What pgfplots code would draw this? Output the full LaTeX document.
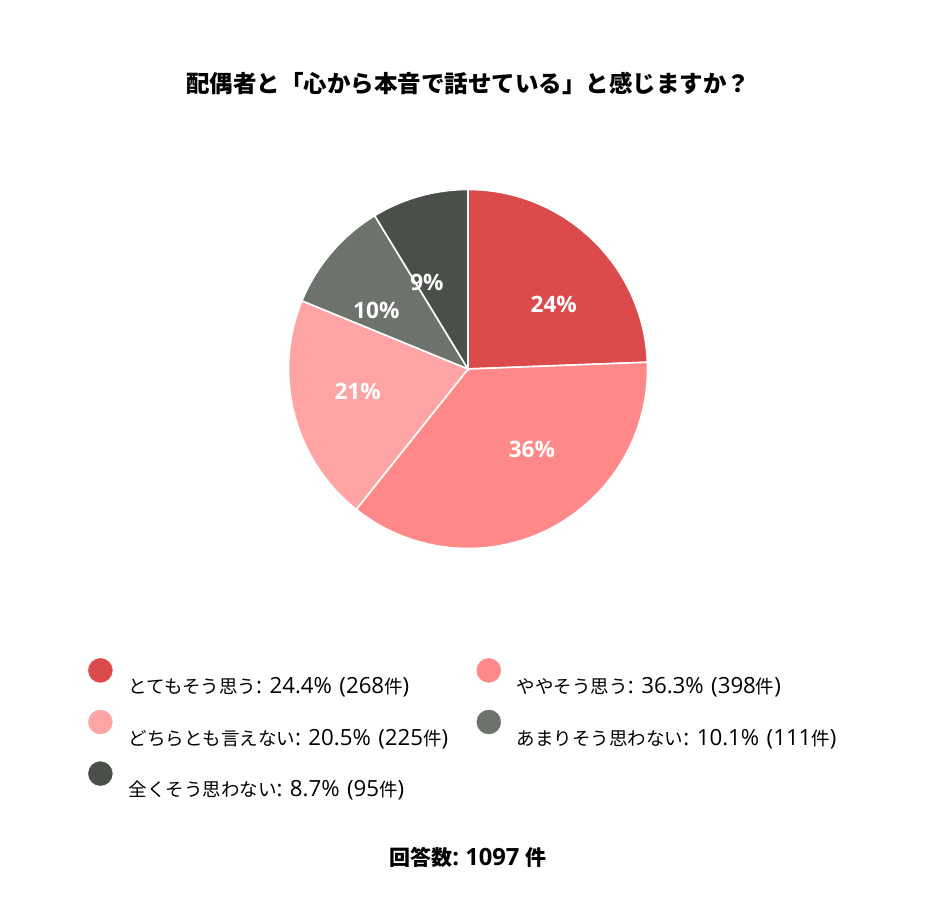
\documentclass[border=0pt]{standalone}
\usepackage{fontspec}
\setmainfont{Open Sans}[Scale=1.13]
\newfontfamily\jp{Noto Sans CJK JP}
\newcommand\jpl{\jp\fontsize{18.5bp}{22bp}\selectfont}
\usepackage{pgfplots}
\usepackage{pgfplotstable}
\pgfplotsset{compat=1.18}
\usetikzlibrary{calc}
\frenchspacing

\definecolor{c1}{HTML}{DC4B4B}
\definecolor{c2}{HTML}{FF8888}
\definecolor{c3}{HTML}{FFA4A4}
\definecolor{c4}{HTML}{6D726D}
\definecolor{c5}{HTML}{4A5049}

% 回答の内訳 (pct は %, count は件数)
\pgfplotstableread{
label pct count color
とてもそう思う 24.4 268 c1
ややそう思う 36.3 398 c2
どちらとも言えない 20.5 225 c3
あまりそう思わない 10.1 111 c4
全くそう思わない 8.7 95 c5
}\piedata

\begin{document}
\begin{tikzpicture}
\begin{axis}[
    hide axis,
    scale only axis,
    width=936bp, height=912bp,
    xmin=0, xmax=936, ymin=0, ymax=912,
    clip=false,
    legend columns=2,
    legend cell align=left,
    legend style={
        at={(axis cs:88,254)}, anchor=north west,
        draw=none, fill=none, inner sep=0pt,
        font=\fontsize{19.7bp}{22bp}\selectfont,
        nodes={inner sep=0pt, text width=330bp, align=left},
        row sep=14.5bp,
        /tikz/every odd column/.append style={column sep=16bp},
        /tikz/every even column/.append style={column sep=18bp},
    },
]
% 凡例
\pgfplotsinvokeforeach{0,...,4}{
    \pgfplotstablegetelem{#1}{color}\of\piedata
    \edef\tmp{\noexpand\addlegendimage{legend image code/.code={\noexpand\fill[\pgfplotsretval] (12bp,16bp) circle[radius=12bp];}}}
    \tmp
    \pgfplotstablegetelem{#1}{label}\of\piedata \let\lab\pgfplotsretval
    \pgfplotstablegetelem{#1}{pct}\of\piedata \let\pc\pgfplotsretval
    \pgfplotstablegetelem{#1}{count}\of\piedata \let\cn\pgfplotsretval
    \edef\tmp{\noexpand\addlegendentry{{\noexpand\jpl\lab}: \pc\noexpand\% (\cn{}{\noexpand\jpl 件})}}
    \tmp
}

% 円グラフ
\pgfplotsextra{
    \path (rel axis cs:0,0) rectangle (rel axis cs:1,1);
    \def\cum{0}
    \pgfplotsforeachungrouped \i in {0,...,4}{
        \pgfplotstablegetelem{\i}{pct}\of\piedata \let\p\pgfplotsretval
        \pgfplotstablegetelem{\i}{color}\of\piedata \let\c\pgfplotsretval
        \pgfmathsetmacro\a{90-3.6*\cum}
        \pgfmathsetmacro\b{90-3.6*(\cum+\p)}
        \fill[\c, draw=white, line width=1.6bp] (axis cs:468,543) -- ++(\a:179.5bp)
            arc[start angle=\a, end angle=\b, radius=179.5bp] -- cycle;
        \pgfmathsetmacro\cum{\cum+\p}
    }
    \def\cum{0}
    \pgfplotsforeachungrouped \i in {0,...,4}{
        \pgfplotstablegetelem{\i}{pct}\of\piedata \let\p\pgfplotsretval
        \pgfmathsetmacro\m{90-3.6*(\cum+\p/2)}
        \pgfmathparse{cos(\m)>0 ? "west" : "east"}\let\anc\pgfmathresult
        \node[anchor=\anc, text=white, inner sep=0pt,
              font=\fontsize{20bp}{24bp}\selectfont\bfseries]
            at ($(axis cs:468,543)+(\m:90bp)$)
            {\pgfmathprintnumber[fixed,precision=0,assume math mode=true]{\p}\%};
        \pgfmathsetmacro\cum{\cum+\p}
    }
}

\node[font=\fontsize{23.5bp}{28bp}\selectfont\bfseries\jp] at (axis cs:468,829)
    {配偶者と「心から本音で話せている」と感じますか？};
\node[font=\fontsize{21bp}{25bp}\selectfont\bfseries] at (axis cs:468,55)
    {{\jp 回答数}: 1097 {\jp 件}};
\end{axis}
\end{tikzpicture}
\end{document}
